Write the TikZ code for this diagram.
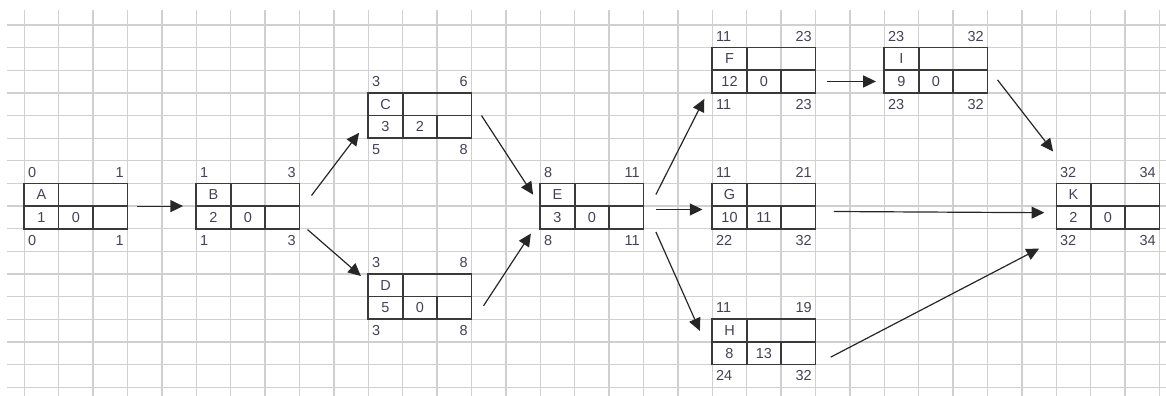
\documentclass[tikz,border=0pt]{standalone}
\usepackage{fontspec}
\setmainfont{Liberation Sans}
\usepackage{xcolor}
\usetikzlibrary{arrows.meta}

\definecolor{cellline}{RGB}{208,208,208}
\definecolor{boxline}{RGB}{58,58,58}
\definecolor{numtext}{RGB}{66,66,86}

\begin{document}
\begin{tikzpicture}[x=0.86cm,y=0.566cm,
	every node/.style={font=\fontsize{10.3}{12}\selectfont, text=numtext, inner sep=0pt},
	task/.style={rectangle, draw=boxline, line width=1.15pt, minimum width=2.58cm, minimum height=1.132cm},
	link/.style={-{Triangle[length=9pt,width=8.5pt]}, draw=black!85, line width=0.85pt}]

	\useasboundingbox (-0.706,-0.387) rectangle (33.189,17.104);

	% sheet grid
	\draw[step=1, cellline, line width=0.9pt] (-0.5,-0.387) grid (33.189,16.66);

	% activities: name/column/bottom row/duration/slack/ES/EF/LS/LF
	\foreach \n/\c/\r/\d/\s/\es/\ef/\ls/\lf in {
		A/0/7/1/0/0/1/0/1, B/5/7/2/0/1/3/1/3, C/10/11/3/2/3/6/5/8, D/10/3/5/0/3/8/3/8,
		E/15/7/3/0/8/11/8/11, F/20/13/12/0/11/23/11/23, G/20/7/10/11/11/21/22/32,
		H/20/1/8/13/11/19/24/32, I/25/13/9/0/23/32/23/32, K/30/7/2/0/32/34/32/34}{
		\node[task] (\n) at (\c+1.5,\r+1) {};
		\draw[boxline, line width=1.15pt] (\c,\r+1) -- (\c+3,\r+1)
			(\c+1,\r) -- (\c+1,\r+2) (\c+2,\r) -- (\c+2,\r+1);
		\node (\n-lbl) at (\c+0.5,\r+1.5) {\n};
		\node (\n-dur) at (\c+0.5,\r+0.5) {\d};
		\node (\n-sl) at (\c+1.5,\r+0.5) {\s};
		% earliest times above, latest times below
		\node[anchor=west] (\n-es) at (\c+0.1,\r+2.5) {\es};
		\node[anchor=east] (\n-ef) at (\c+2.9,\r+2.5) {\ef};
		\node[anchor=west] (\n-ls) at (\c+0.1,\r-0.5) {\ls};
		\node[anchor=east] (\n-lf) at (\c+2.9,\r-0.5) {\lf};
	}

	% Arrows
	\draw[link] ([xshift=0.23cm]A.east) -- ([xshift=-0.31cm]B.west);
	\draw[link] ([xshift=0.28cm,yshift=0.265cm]B.east) -- ([xshift=-0.21cm,yshift=0.155cm]C.south west);
	\draw[link] ([xshift=0.18cm]B.south east) -- ([xshift=-0.165cm,yshift=-0.07cm]D.north west);
	\draw[link] ([xshift=0.23cm]C.east) -- ([xshift=-0.16cm,yshift=-0.3cm]E.north west);
	\draw[link] ([xshift=0.28cm,yshift=-0.23cm]D.east) -- ([xshift=-0.215cm,yshift=-0.1cm]E.south west);
	\draw[link] ([xshift=0.29cm,yshift=0.29cm]E.east) -- ([xshift=-0.18cm,yshift=-0.13cm]F.south west);
	\draw[link] ([xshift=0.29cm,yshift=-0.085cm]E.east) -- ([xshift=-0.225cm,yshift=-0.085cm]G.west);
	\draw[link] ([xshift=0.29cm,yshift=-0.06cm]E.south east) -- ([xshift=-0.29cm,yshift=-0.31cm]H.north west);
	\draw[link] ([xshift=0.26cm,yshift=-0.28cm]F.east) -- ([xshift=-0.19cm,yshift=-0.28cm]I.west);
	\draw[link] ([xshift=0.23cm,yshift=-0.24cm]I.east) -- ([xshift=-0.06cm,yshift=0.78cm]K.north west);
	\draw[link] ([xshift=0.44cm,yshift=-0.135cm]G.east) -- ([xshift=-0.28cm,yshift=-0.165cm]K.west);
	\draw[link] ([xshift=0.36cm,yshift=-0.38cm]H.east) -- ([xshift=-0.41cm,yshift=-0.475cm]K.south west);

\end{tikzpicture}
\end{document}
